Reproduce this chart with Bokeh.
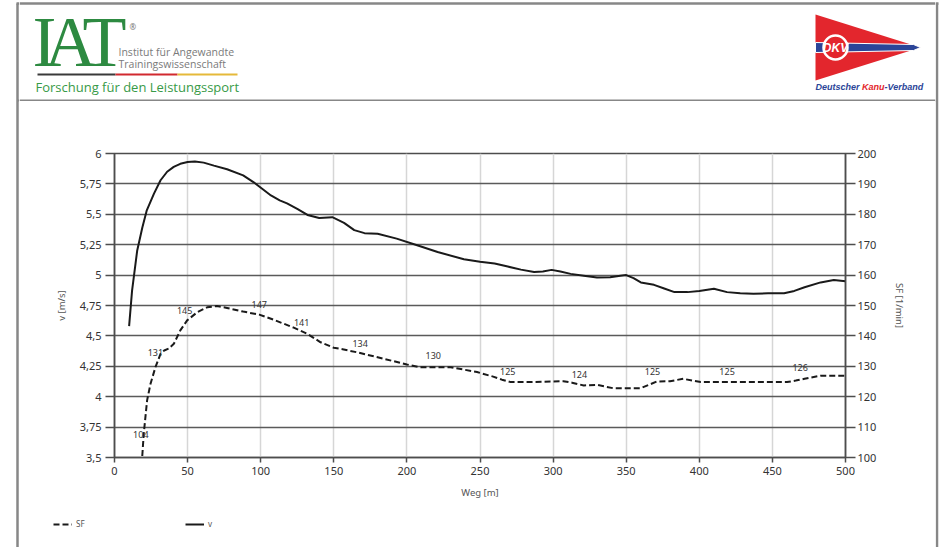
from bokeh.plotting import figure
from bokeh.layouts import row, column
from bokeh.models import Range1d, LinearAxis, FixedTicker, Legend, LegendItem
from bokeh.core.properties import value
from bokeh.embed import file_html
from bokeh.resources import INLINE

# ---------------- data ----------------
v_dist = [10, 12, 15.5, 19, 22, 27, 31.5, 36, 40.5, 45, 50, 55, 61, 68, 77, 88, 95, 101, 107,
          113, 118, 125, 132, 140, 149, 157, 164, 171, 180, 193, 207, 221, 239, 250, 260, 269,
          278, 287, 293, 299, 305, 312, 321, 330, 339, 346, 350, 355, 360, 369, 376, 383, 392,
          400, 410, 419, 428, 437, 447, 458, 465, 472, 483, 492, 500]
v_speed = [4.58, 4.87, 5.20, 5.39, 5.53, 5.67, 5.78, 5.85, 5.89, 5.915, 5.93, 5.935, 5.925,
           5.90, 5.87, 5.82, 5.765, 5.71, 5.655, 5.615, 5.59, 5.545, 5.495, 5.47, 5.476, 5.43,
           5.37, 5.345, 5.34, 5.30, 5.245, 5.19, 5.13, 5.11, 5.095, 5.07, 5.045, 5.025, 5.03,
           5.043, 5.03, 5.01, 4.995, 4.98, 4.983, 4.995, 5.0, 4.975, 4.94, 4.92, 4.89, 4.86,
           4.86, 4.87, 4.887, 4.86, 4.85, 4.846, 4.85, 4.85, 4.87, 4.9, 4.94, 4.96, 4.95]

sf_dist = [19, 20, 22.3, 24.6, 28, 31.5, 34, 37, 40.6, 45, 49.7, 56.6, 63.4, 70, 77, 88, 99,
           109, 122.6, 131.8, 141, 150, 156, 166, 184, 200, 209, 230, 248, 259, 265, 271, 285,
           307, 313, 321, 330, 341, 353, 360, 365, 371, 380, 389, 395, 401, 415, 440, 460, 466,
           472, 483, 500]
sf_rate = [100.5, 107.8, 118.8, 124.2, 129.7, 134.1, 135.2, 135.8, 137.4, 141.8, 145.1, 147.8,
           149.4, 149.8, 149.2, 148.0, 147.0, 145.3, 142.7, 140.7, 137.9, 136.1, 135.6, 134.6,
           132.5, 130.6, 129.7, 129.7, 128.1, 126.6, 125.6, 124.8, 124.8, 125.1, 124.6, 123.7,
           123.9, 122.8, 122.8, 122.8, 123.8, 125.0, 125.1, 125.9, 125.3, 124.8, 124.8, 124.8,
           124.8, 125.3, 125.9, 126.9, 126.9]

label_dist = [18, 28, 48, 99, 128, 168, 218, 269, 318, 368, 419, 469]
label_sf = [104, 131, 145, 147, 141, 134, 130, 125, 124, 125, 125, 126]

x_ticks = [0, 50, 100, 150, 200, 250, 300, 350, 400, 450, 500]
v_ticks = [3.5, 3.75, 4, 4.25, 4.5, 4.75, 5, 5.25, 5.5, 5.75, 6]
v_tick_labels = ["3,5", "3,75", "4", "4,25", "4,5", "4,75", "5", "5,25", "5,5", "5,75", "6"]
sf_ticks = [100, 110, 120, 130, 140, 150, 160, 170, 180, 190, 200]

legend_labels = ["SF", "v"]

FONT = "Noto Sans"
DARK = "#4d4d4d"
GREY = "#878787"
GREEN = "#2d8a41"


def blank(w, h, x0, x1, y0, y1):
    """A figure whose frame fills its canvas; ranges are page pixels (y downward)."""
    f = figure(width=w, height=h, x_range=Range1d(x0, x1), y_range=Range1d(y1, y0),
               x_axis_type=None, y_axis_type=None, output_backend="svg",
               toolbar_location=None, min_border=0, frame_align=False)
    f.outline_line_color = None
    f.background_fill_color = "white"
    f.border_fill_color = "white"
    return f


# ---------------- page borders ----------------
left_strip = blank(19, 547, 0, 19, 0, 547)
left_strip.segment(x0=[17, 16], y0=[3, 3], x1=[17, 19], y1=[547, 3], line_color=GREY, line_width=2.5)
left_strip.segment(x0=[17], y0=[100], x1=[19], y1=[100], line_color=GREY, line_width=2)

right_strip = blank(10, 547, 935, 945, 0, 547)
right_strip.segment(x0=[936.5, 935], y0=[3, 3], x1=[936.5, 938], y1=[547, 3], line_color=GREY, line_width=2.5)
right_strip.segment(x0=[935], y0=[100], x1=[936.5], y1=[100], line_color=GREY, line_width=2)

# ---------------- header ----------------
head = blank(916, 101, 19, 935, 0, 101)
head.segment(x0=[19], y0=[3], x1=[935], y1=[3], line_color=GREY, line_width=2.5)
head.segment(x0=[19], y0=[100], x1=[935], y1=[100], line_color=GREY, line_width=2)

head.text(x=[32, 44, 82], y=[41, 41, 41], text=["I", "A", "T"], text_font=value("Liberation Serif"),
          text_font_size="72px", text_color=GREEN, text_baseline="middle")
head.text(x=[129], y=[26], text=["®"], text_font=value(FONT), text_font_size="8px",
          text_color="#777777", text_baseline="middle")
head.text(x=[118, 118], y=[51.5, 63], text=["Institut für Angewandte", "Trainingswissenschaft"],
          text_font=value("Open Sans"), text_font_size="10.5px", text_color="#7a7a7a",
          text_baseline="middle")
head.quad(left=[37, 115, 177], right=[115, 177, 237], top=[73, 73, 73], bottom=[75, 75, 75],
          fill_color=["#3a3a3a", "#d1292f", "#e5b93a"], line_alpha=0)
head.text(x=[35], y=[86], text=["Forschung für den Leistungssport"], text_font=value("Open Sans"),
          text_font_size="13px", text_color="#379a47", text_baseline="middle")

RED = "#e3262d"
BLUE = "#2b4598"
head.patch([815, 815, 920], [14, 80, 47], fill_color=RED, line_alpha=0)
head.patch([815, 913, 920, 913, 815], [42, 44, 47, 50, 52], fill_color=BLUE,
           line_color="white", line_width=1)
head.scatter(x=[835], y=[47], size=24, marker="circle", fill_color=RED, line_color="white",
             line_width=2.5)
head.text(x=[835], y=[47.5], text=["DKV"], text_font=value("Liberation Sans"), text_font_size="12px",
          text_font_style="bold italic", text_color="white", text_align="center",
          text_baseline="middle")
head.text(x=[815, 861.5, 884], y=[86.5, 86.5, 86.5], text=["Deutscher ", "Kanu", "-Verband"],
          text_font=value("Liberation Sans"), text_font_size="9px", text_font_style="bold italic",
          text_color=[BLUE, RED, BLUE], text_baseline="middle")

# ---------------- chart ----------------
p = figure(width=916, height=404, x_range=Range1d(0, 500), y_range=Range1d(3.5, 6),
           output_backend="svg", toolbar_location=None, frame_align=False,
           min_border_left=95, min_border_right=90, min_border_top=52, min_border_bottom=48)
p.extra_y_ranges = {"sf": Range1d(100, 200)}
p.background_fill_color = "white"
p.border_fill_color = "white"
p.outline_line_color = DARK
p.outline_line_width = 1.5

right = LinearAxis(y_range_name="sf", ticker=FixedTicker(ticks=sf_ticks), axis_label="SF [1/min]")
p.add_layout(right, "right")

p.xaxis.ticker = FixedTicker(ticks=x_ticks)
p.yaxis[0].ticker = FixedTicker(ticks=v_ticks)
p.yaxis[0].major_label_overrides = dict(zip(v_ticks, v_tick_labels))
p.xaxis.axis_label = "Weg [m]"
p.yaxis[0].axis_label = "v [m/s]"

for ax, tout, stand, lstand in [(p.xaxis[0], 5, 4, 8), (p.yaxis[0], 9, 4, 9), (right, 10, 2, 14)]:
    ax.axis_line_color = DARK
    ax.axis_line_width = 1.5
    ax.major_tick_line_color = DARK
    ax.major_tick_line_width = 1.5
    ax.major_tick_in = 0
    ax.major_tick_out = tout
    ax.minor_tick_in = 0
    ax.minor_tick_out = 0
    ax.major_label_standoff = stand
    ax.major_label_text_font = FONT
    ax.major_label_text_font_size = "11px"
    ax.major_label_text_color = "#333333"
    ax.axis_label_standoff = lstand
    ax.axis_label_text_font = FONT
    ax.axis_label_text_font_size = "9.5px"
    ax.axis_label_text_font_style = "normal"
    ax.axis_label_text_color = "#555555"

p.xgrid.ticker = FixedTicker(ticks=x_ticks)
p.xgrid.grid_line_color = "#d6d6d6"
p.xgrid.grid_line_width = 1.5
p.ygrid.ticker = FixedTicker(ticks=v_ticks)
p.ygrid.grid_line_color = "#5a5a5a"
p.ygrid.grid_line_width = 1.5

SF_STYLE = dict(line_color="#1a1a1a", line_width=2, line_dash="6 3")
V_STYLE = dict(line_color="#1a1a1a", line_width=2)
p.line(sf_dist, sf_rate, y_range_name="sf", **SF_STYLE)
p.line(v_dist, v_speed, **V_STYLE)

p.text(x=label_dist, y=label_sf, text=[str(s) for s in label_sf], y_range_name="sf",
       y_offset=-10.5, text_align="center", text_baseline="middle",
       text_font=value(FONT), text_font_size="9px", text_color="#333333")

# ---------------- footer legend ----------------
# legend proxies: the same series, drawn outside this strip's visible y-range
foot = blank(916, 42, 19, 935, 505, 547)
leg_sf = foot.line(sf_dist, sf_rate, **SF_STYLE)
leg_v = foot.line(v_dist, v_speed, **V_STYLE)
for lab, rend, loc in [(legend_labels[0], leg_sf, (34, 18)), (legend_labels[1], leg_v, (166, 18))]:
    lg = Legend(items=[LegendItem(label=lab, renderers=[rend])], location=loc, padding=0, margin=0,
                glyph_width=19, glyph_height=10, label_standoff=4, label_text_font=FONT,
                label_text_font_size="8px", label_text_color="#555555", label_height=10,
                border_line_alpha=0, background_fill_alpha=0)
    foot.add_layout(lg)

layout = row(left_strip, column(head, p, foot), right_strip)
open("out.html", "w").write(file_html(layout, INLINE))
